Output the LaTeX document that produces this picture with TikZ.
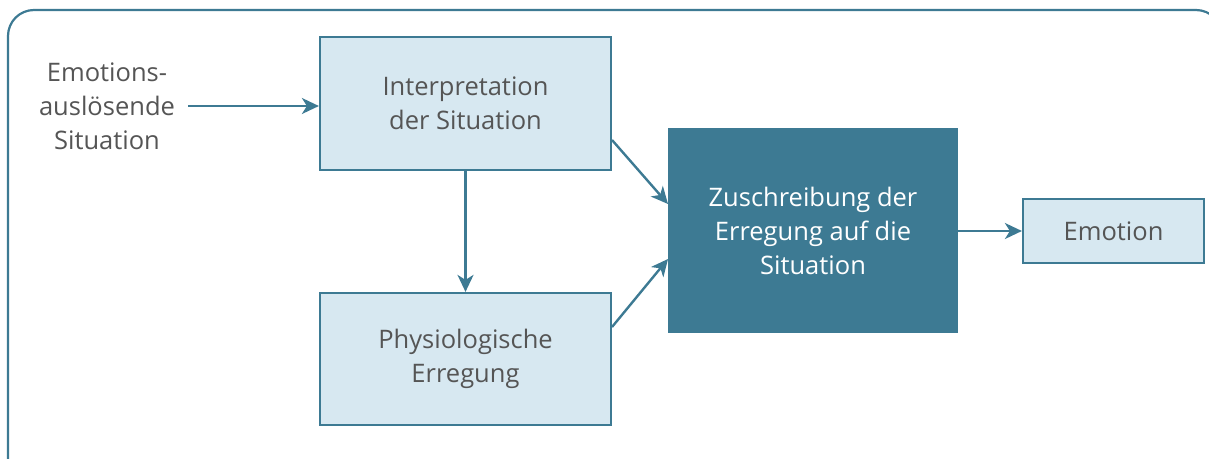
\documentclass[tikz,border=0pt]{standalone}
\usepackage{fontspec}
\setmainfont{Open Sans}
\usetikzlibrary{arrows.meta}
\definecolor{teal}{HTML}{3D7A93}
\definecolor{lightbox}{HTML}{D7E8F1}
\definecolor{txt}{HTML}{555555}
\tikzset{
  lbox/.style={draw=teal, line width=2.2pt, fill=lightbox, text=txt, align=center, font=\fontsize{25.5}{34}\selectfont, inner sep=0pt},
  dbox/.style={fill=teal, text=white, align=center, font=\fontsize{25.5}{34}\selectfont, inner sep=0pt},
  conn/.style={draw=teal, line width=2.4pt, -{Stealth[length=17pt,width=16pt,inset=5pt]}},
}
\begin{document}
\begin{tikzpicture}[x=1pt,y=-1pt]
\useasboundingbox (0,0) rectangle (1209,458);
\begin{scope}
\clip (0,0) rectangle (1209,458);
\draw[teal, line width=2.2pt, rounded corners=26pt] (8,470) -- (8,10) -- (1222,10) -- (1222,470);
\end{scope}
\node[lbox, minimum width=291pt, minimum height=133pt] (interp) at (465.5,103.5) {Interpretation\\der Situation};
\node[lbox, minimum width=291pt, minimum height=132pt] (phys) at (465.5,359) {Physiologische\\Erregung};
\node[dbox, minimum width=290pt, minimum height=205pt] (zu) at (813,230.5) {Zuschreibung der\\Erregung auf die\\Situation};
\node[lbox, minimum width=181pt, minimum height=64pt] (emo) at (1113.5,231) {Emotion};
\node[text=txt, align=center, font=\fontsize{25.5}{34}\selectfont, inner sep=0pt] (sit) at (107,106) {Emotions-\\auslösende\\Situation};
\coordinate (s0) at (188,106);
\draw[conn] (s0) -- (interp.west |- s0);
\draw[conn] (interp.south) -- (phys.north);
\coordinate (a1) at (612,140);
\coordinate (a2) at (668,204);
\coordinate (b1) at (612,327);
\coordinate (b2) at (668,259);
\draw[conn] (a1) -- (a2);
\draw[conn] (b1) -- (b2);
\draw[conn] (zu.east |- emo.west) -- (emo.west);
\end{tikzpicture}
\end{document}
